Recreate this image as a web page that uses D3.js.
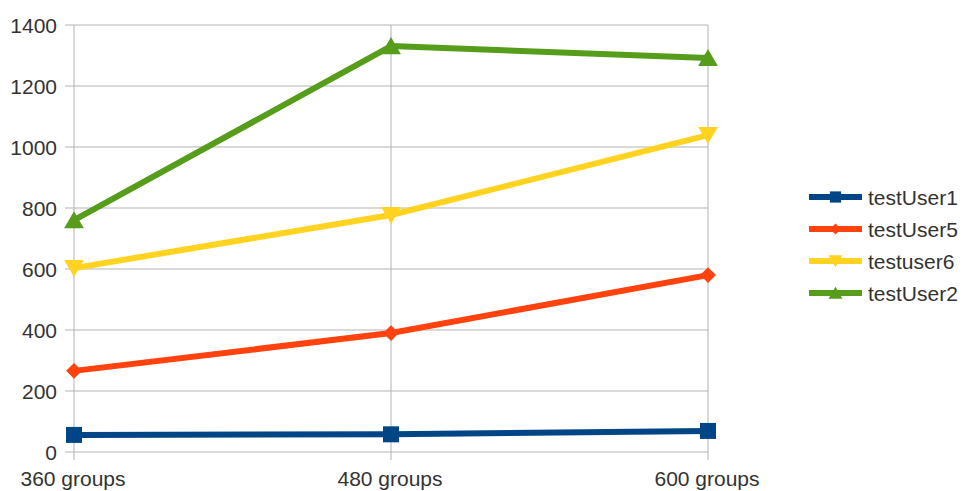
<!DOCTYPE html>
<html><head><meta charset="utf-8">
<script src="https://cdn.jsdelivr.net/npm/d3@7"></script>
<style>body{margin:0;background:#fff;} text{font-family:"Liberation Sans",Arial,sans-serif;}</style>
</head><body>
<svg id="chart" width="963" height="491"></svg>
<script>
const categories = ["360 groups", "480 groups", "600 groups"];
const seriesNames = ["testUser1", "testUser5", "testuser6", "testUser2"];
const testUser1 = [56, 58, 69];
const testUser5 = [266, 390, 580];
const testuser6 = [603, 777, 1039];
const testUser2 = [760, 1331, 1292];
const yTicks = [0, 200, 400, 600, 800, 1000, 1200, 1400];
const colors = ["#004586", "#ff420e", "#ffd320", "#579d1c"];
const symbols = ["square", "diamond", "tri-down", "tri-up"];

const series = [testUser1, testUser5, testuser6, testUser2];
const svg = d3.select("#chart");
const x = d3.scalePoint().domain(categories).range([74, 708]);
const y = d3.scaleLinear().domain([0, 1400]).range([452, 25]);
const grid = "#b3b3b3";

svg.append("g").selectAll("line").data(yTicks).join("line")
  .attr("x1", 65).attr("x2", 708).attr("y1", d => y(d)).attr("y2", d => y(d))
  .attr("stroke", grid).attr("stroke-width", 1);
svg.append("g").selectAll("line").data(categories).join("line")
  .attr("x1", d => x(d)).attr("x2", d => x(d)).attr("y1", 25).attr("y2", 460)
  .attr("stroke", grid).attr("stroke-width", 1);

svg.append("g").selectAll("text").data(yTicks).join("text")
  .attr("x", 57).attr("y", d => y(d)).attr("dy", "0.36em").attr("text-anchor", "end")
  .attr("font-size", 21).attr("fill", "#333").text(d => d);
svg.append("g").selectAll("text").data(categories).join("text")
  .attr("x", d => x(d) - 1).attr("y", 486).attr("text-anchor", "middle")
  .attr("font-size", 21).attr("fill", "#333").text(d => d);

function marker(g, sym, color, s) {
  let d;
  if (sym === "square") d = `M${-s},${-s}H${s}V${s}H${-s}Z`;
  else if (sym === "diamond") { const r = s * 1.05; d = `M0,${-r}L${r},0L0,${r}L${-r},0Z`; }
  else if (sym === "tri-down") d = `M${-s * 1.1},${-s * 0.9}H${s * 1.1}L0,${s * 1.0}Z`;
  else d = `M${-s * 1.1},${s * 0.9}H${s * 1.1}L0,${-s * 1.0}Z`;
  g.append("path").attr("d", d).attr("fill", color);
}
const half = [8, 7.5, 9, 9];

const line = d3.line().x((d, i) => x(categories[i])).y(d => y(d));
series.forEach((s, k) => {
  svg.append("path").datum(s).attr("d", line).attr("fill", "none")
    .attr("stroke", colors[k]).attr("stroke-width", 6).attr("stroke-linejoin", "round");
  s.forEach((v, i) => {
    const g = svg.append("g").attr("transform", `translate(${x(categories[i])},${y(v)})`);
    marker(g, symbols[k], colors[k], half[k]);
  });
});

const lg = svg.append("g");
seriesNames.forEach((n, k) => {
  const cy = 197 + k * 32;
  lg.append("line").attr("x1", 809).attr("x2", 862).attr("y1", cy).attr("y2", cy)
    .attr("stroke", colors[k]).attr("stroke-width", 6);
  const g = lg.append("g").attr("transform", `translate(835.5,${cy})`);
  marker(g, symbols[k], colors[k], half[k] * 0.7);
  lg.append("text").attr("x", 868).attr("y", cy).attr("dy", "0.36em")
    .attr("font-size", 21).attr("fill", "#333").text(n);
});
</script>
</body></html>
